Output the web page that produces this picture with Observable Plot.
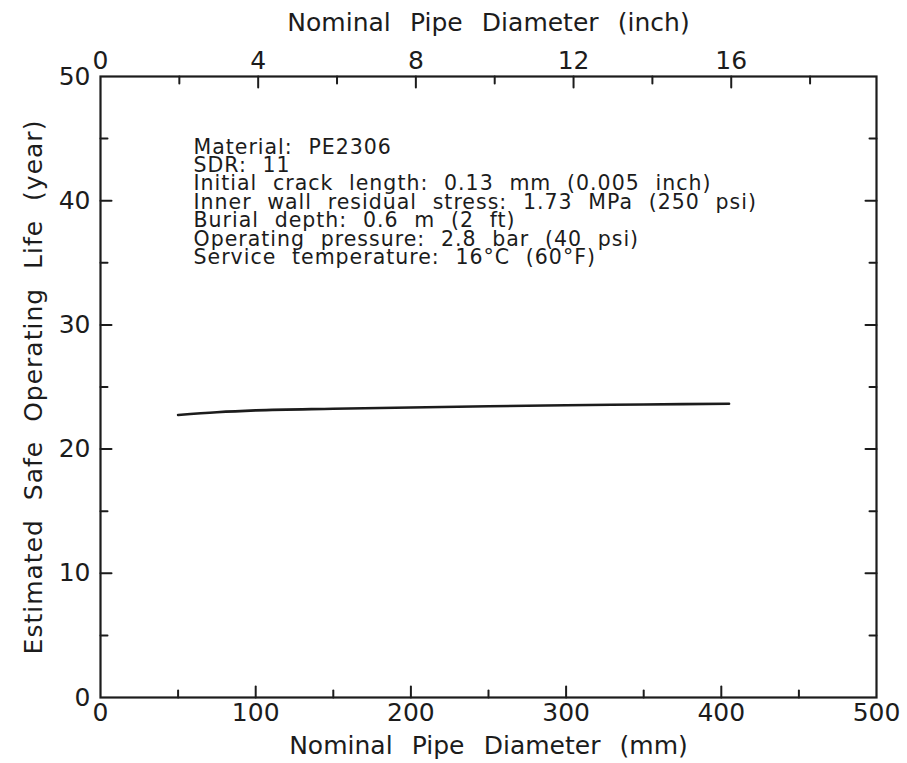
<!DOCTYPE html>
<html>
<head>
<meta charset="utf-8">
<script src="https://cdn.jsdelivr.net/npm/d3@7"></script>
<script src="https://cdn.jsdelivr.net/npm/@observablehq/plot@0.6"></script>
<style>
  html, body { margin: 0; padding: 0; background: #ffffff; }
</style>
</head>
<body>
<div id="chart"></div>
<script>
// ---- data ----
const diameterMm = [50, 75, 100, 150, 200, 250, 300, 350, 405];
const lifeYears  = [22.75, 22.97, 23.12, 23.25, 23.35, 23.45, 23.53, 23.59, 23.65];

const mmLabels   = [0, 100, 200, 300, 400, 500];
const mmMajor    = [100, 200, 300, 400];
const mmMinor    = [50, 150, 250, 350, 450];
const inchLabels = [0, 4, 8, 12, 16];
const inchMajor  = [4, 8, 12, 16];
const inchMinor  = [2, 6, 10, 14, 18];
const yearLabels = [0, 10, 20, 30, 40, 50];
const yearMajor  = [10, 20, 30, 40];
const yearMinor  = [5, 15, 25, 35, 45];

const xTitleBottom = "Nominal Pipe Diameter (mm)";
const xTitleTop    = "Nominal Pipe Diameter (inch)";
const yTitle       = "Estimated Safe Operating Life (year)";

const annotationLines = [
  "Material: PE2306",
  "SDR: 11",
  "Initial crack length: 0.13 mm (0.005 inch)",
  "Inner wall residual stress: 1.73 MPa (250 psi)",
  "Burial depth: 0.6 m (2 ft)",
  "Operating pressure: 2.8 bar (40 psi)",
  "Service temperature: 16°C (60°F)"
];

const MM_PER_INCH = 25.4;
const ink = "#1c1c1c";
const tickShape = { draw(context, l) { context.moveTo(0, 0); context.lineTo(0, -l); } };
const MAJ = 11, MIN = 7;

const series = diameterMm.map((d, i) => ({d, life: lifeYears[i]}));

const chart = Plot.plot({
  width: 907,
  height: 763,
  marginLeft: 100,
  marginRight: 31,
  marginTop: 76,
  marginBottom: 66,
  style: {fontFamily: "'DejaVu Sans', sans-serif", background: "#ffffff", color: ink},
  x: {domain: [0, 500], axis: null},
  y: {domain: [0, 50], axis: null},
  marks: [
    Plot.line(series, {x: "d", y: "life", stroke: ink, strokeWidth: 2.6, curve: "monotone-x"}),
    Plot.frame({stroke: ink, strokeWidth: 2.2}),
    Plot.vectorX(mmMajor, {x: d => d, frameAnchor: "bottom", length: MAJ, anchor: "start", rotate: 0, shape: tickShape, stroke: ink, strokeWidth: 2}),
    Plot.vectorX(mmMinor, {x: d => d, frameAnchor: "bottom", length: MIN, anchor: "start", rotate: 0, shape: tickShape, stroke: ink, strokeWidth: 2}),
    Plot.vectorX(inchMajor, {x: d => d * MM_PER_INCH, frameAnchor: "top", length: MAJ, anchor: "start", rotate: 180, shape: tickShape, stroke: ink, strokeWidth: 2}),
    Plot.vectorX(inchMinor, {x: d => d * MM_PER_INCH, frameAnchor: "top", length: MIN, anchor: "start", rotate: 180, shape: tickShape, stroke: ink, strokeWidth: 2}),
    Plot.vectorY(yearMajor, {y: d => d, frameAnchor: "left", length: MAJ, anchor: "start", rotate: 90, shape: tickShape, stroke: ink, strokeWidth: 2}),
    Plot.vectorY(yearMinor, {y: d => d, frameAnchor: "left", length: MIN, anchor: "start", rotate: 90, shape: tickShape, stroke: ink, strokeWidth: 2}),
    Plot.vectorY(yearMajor, {y: d => d, frameAnchor: "right", length: MAJ, anchor: "start", rotate: -90, shape: tickShape, stroke: ink, strokeWidth: 2}),
    Plot.vectorY(yearMinor, {y: d => d, frameAnchor: "right", length: MIN, anchor: "start", rotate: -90, shape: tickShape, stroke: ink, strokeWidth: 2}),
    Plot.text(mmLabels, {x: d => d, frameAnchor: "bottom", dy: 6, lineAnchor: "top", text: d => String(d), fontSize: 25, fill: ink}),
    Plot.text(inchLabels, {x: d => d * MM_PER_INCH, frameAnchor: "top", dy: -8, lineAnchor: "bottom", text: d => String(d), fontSize: 25, fill: ink}),
    Plot.text(yearLabels, {y: d => d, frameAnchor: "left", dx: -10, textAnchor: "end", lineAnchor: "middle", text: d => String(d), fontSize: 25, fill: ink}),
    Plot.text([xTitleBottom], {frameAnchor: "bottom", dy: 48, lineAnchor: "middle", textAnchor: "middle", text: d => d, fontSize: 25, fill: ink}),
    Plot.text([xTitleTop], {frameAnchor: "top", dy: -54, lineAnchor: "middle", textAnchor: "middle", text: d => d, fontSize: 25, fill: ink}),
    Plot.text([yTitle], {frameAnchor: "left", dx: -67, rotate: -90, textAnchor: "middle", lineAnchor: "middle", text: d => d, fontSize: 25, fill: ink}),
    Plot.text([annotationLines.join("\n")], {frameAnchor: "top-left", dx: 93, dy: 64, textAnchor: "start", lineAnchor: "top", lineHeight: 0.9, text: d => d, fontSize: 20.5, fill: ink})
  ]
});

// spacing tweaks to mimic the wide plotter lettering
chart.querySelectorAll("text").forEach(t => {
  const s = t.textContent;
  if (s === xTitleBottom || s === xTitleTop) { t.style.wordSpacing = "0.45em"; }
  else if (s === yTitle) { t.style.wordSpacing = "0.4em"; t.style.letterSpacing = "1px"; }
  else if (s.startsWith("Material")) { t.style.wordSpacing = "0.4em"; t.style.letterSpacing = "1px"; }
});
document.getElementById("chart").appendChild(chart);
</script>
</body>
</html>
